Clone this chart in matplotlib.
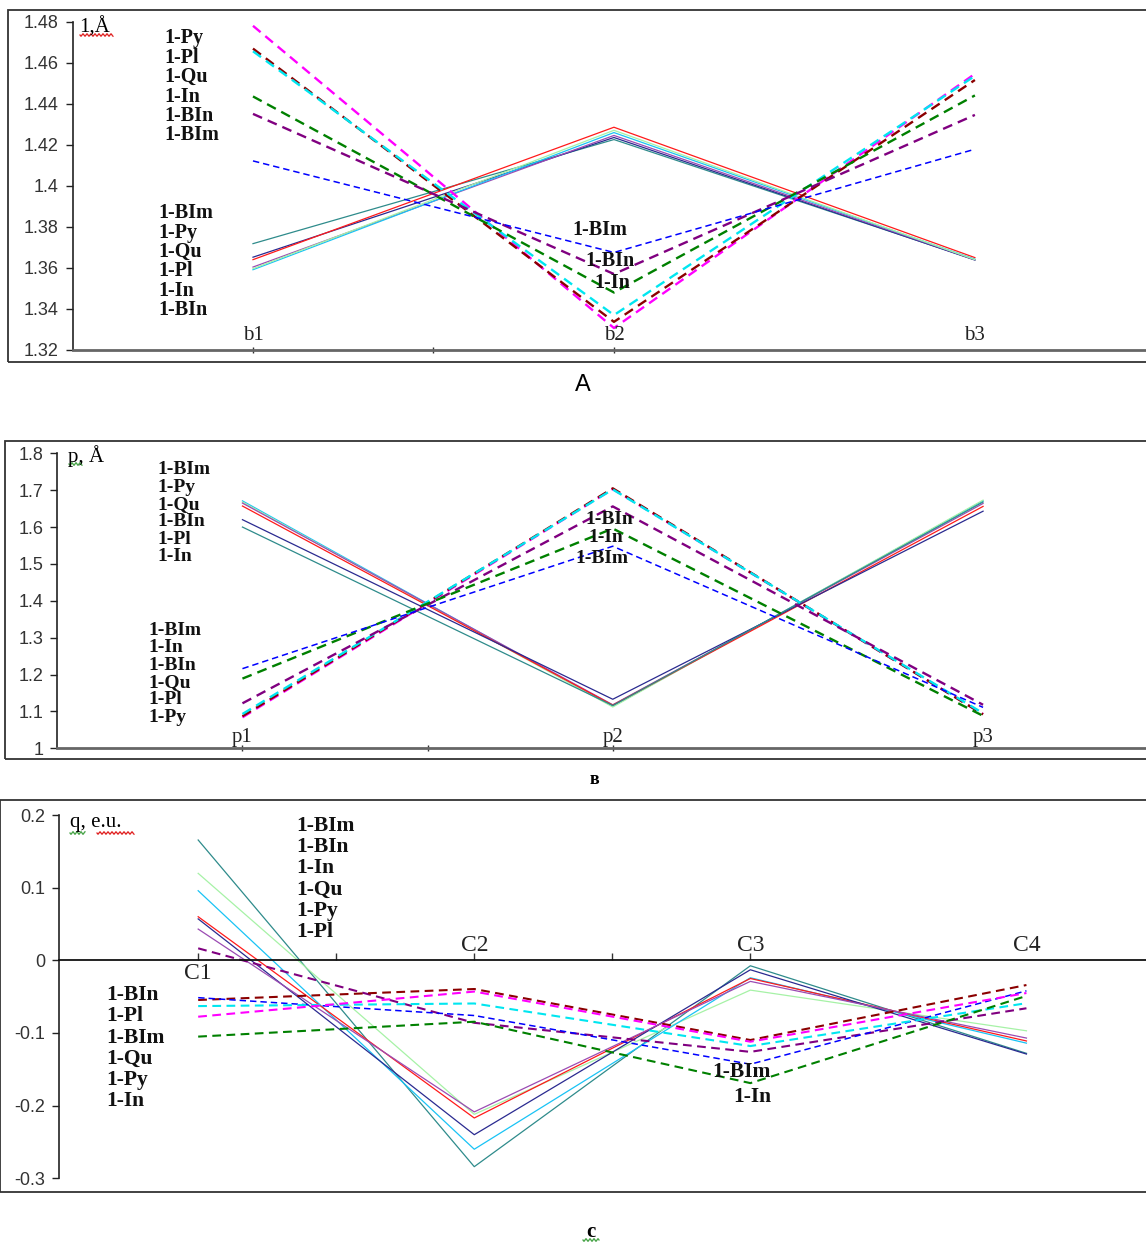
import numpy as np
import matplotlib.pyplot as plt
from matplotlib.patches import Rectangle
from matplotlib.lines import Line2D
from matplotlib.ticker import FuncFormatter

W, H = 1146, 1243

TEAL = '#2e8b8b'
LGREEN = '#a6f2a6'
SKY = '#19c3f5'
RED = '#ff1a1a'
NAVY = '#2a2a90'
ORCHID = '#9b4bb3'
MAG = '#ff00ff'
MAROON = '#8b0000'
CYAN = '#00e6f0'
GREEN = '#008000'
PURPLE = '#800080'
BLUE = '#0000ff'

# panel A: bond lengths
a_cats = ['b1', 'b2', 'b3']
a_solid_cols = [TEAL, NAVY, RED, ORCHID, SKY, LGREEN]
a_solid = [[1.3718, 1.4225, 1.3640],
           [1.3652, 1.4235, 1.3638],
           [1.3640, 1.4285, 1.3650],
           [1.3604, 1.4245, 1.3640],
           [1.3591, 1.4259, 1.3642],
           [1.3596, 1.4270, 1.3640]]
a_dash_cols = [MAG, MAROON, CYAN, GREEN, PURPLE, BLUE]
a_dash = [[1.4779, 1.3307, 1.4545],
          [1.4668, 1.3337, 1.4515],
          [1.4655, 1.3370, 1.4535],
          [1.4435, 1.3480, 1.4440],
          [1.4350, 1.3570, 1.4345],
          [1.4121, 1.3675, 1.4178]]
a_yticks = [1.32, 1.34, 1.36, 1.38, 1.40, 1.42, 1.44, 1.46, 1.48]
a_top_names = ['1-Py', '1-Pl', '1-Qu', '1-In', '1-BIn', '1-BIm']
a_low_names = ['1-BIm', '1-Py', '1-Qu', '1-Pl', '1-In', '1-BIn']
a_mid_names = ['1-BIm', '1-BIn', '1-In']

# panel B
b_cats = ['p1', 'p2', 'p3']
b_solid_cols = [SKY, LGREEN, ORCHID, RED, NAVY, TEAL]
b_solid = [[1.671, 1.114, 1.671],
           [1.668, 1.112, 1.673],
           [1.665, 1.118, 1.664],
           [1.657, 1.117, 1.656],
           [1.620, 1.133, 1.643],
           [1.600, 1.116, 1.668]]
b_dash_cols = [MAG, MAROON, CYAN, PURPLE, GREEN, BLUE]
b_dash = [[1.084, 1.703, 1.093],
          [1.087, 1.705, 1.092],
          [1.093, 1.702, 1.095],
          [1.122, 1.656, 1.118],
          [1.189, 1.596, 1.088],
          [1.216, 1.548, 1.111]]
b_yticks = [1.0, 1.1, 1.2, 1.3, 1.4, 1.5, 1.6, 1.7, 1.8]
b_top_names = ['1-BIm', '1-Py', '1-Qu', '1-BIn', '1-Pl', '1-In']
b_low_names = ['1-BIm', '1-In', '1-BIn', '1-Qu', '1-Pl', '1-Py']
b_mid_names = ['1-BIn', '1-In', '1-BIm']

# panel C: charges
c_cats = ['C1', 'C2', 'C3', 'C4']
c_solid_cols = [TEAL, LGREEN, SKY, RED, NAVY, ORCHID]
c_solid = [[0.1656, -0.284, -0.0075, -0.128],
           [0.1197, -0.212, -0.041, -0.097],
           [0.0958, -0.260, -0.024, -0.114],
           [0.0600, -0.217, -0.025, -0.111],
           [0.0570, -0.240, -0.013, -0.129],
           [0.0430, -0.2086, -0.029, -0.107]]
c_dash_cols = [PURPLE, MAROON, BLUE, CYAN, MAG, GREEN]
c_dash = [[0.0165, -0.086, -0.126, -0.066],
          [-0.0546, -0.0395, -0.1097, -0.034],
          [-0.0514, -0.076, -0.143, -0.042],
          [-0.063, -0.0594, -0.118, -0.059],
          [-0.0776, -0.043, -0.112, -0.045],
          [-0.105, -0.0845, -0.169, -0.049]]
c_yticks = [-0.3, -0.2, -0.1, 0.0, 0.1, 0.2]
c_top_names = ['1-BIm', '1-BIn', '1-In', '1-Qu', '1-Py', '1-Pl']
c_low_names = ['1-BIn', '1-Pl', '1-BIm', '1-Qu', '1-Py', '1-In']
c_mid_names = ['1-BIm', '1-In']

SERIF = 'Liberation Serif'
SANS = 'Liberation Sans'

fig = plt.figure(figsize=(W / 100, H / 100), dpi=100)


def fx(x):
    return x / W


def fy(y):
    return 1 - y / H


def px_axes(l, t, r, b):
    return fig.add_axes([fx(l), fy(b), (r - l) / W, (b - t) / H])


def frame(l, t, b):
    fig.add_artist(Rectangle((fx(l), fy(b)), (W + 20 - l) / W, (b - t) / H,
                             transform=fig.transFigure, fill=False,
                             ec='#333333', lw=1.3, clip_on=False))


def squiggle(x0, x1, y, color):
    # spell-check style wavy underline
    xs = np.linspace(x0, x1, 60)
    ys = y + 1.2 * np.sin((xs - x0) * np.pi / 2.0)
    fig.add_artist(Line2D(fx(xs), fy(ys), color=color, lw=0.9,
                          transform=fig.transFigure))


def names(x, ys, labels, size=14.5):
    for y, s in zip(ys, labels):
        fig.text(fx(x), fy(y), s, family=SERIF, weight='bold', fontsize=size,
                 ha='left', va='center', color='#111111')


def style(ax, yticks, xlim, zero_axis=False):
    ax.set_facecolor('none')
    ax.set_xlim(*xlim)
    ax.set_ylim(yticks[0], yticks[-1])
    ax.set_yticks(yticks)
    ax.yaxis.set_major_formatter(FuncFormatter(lambda v, p: f'{v:g}'))
    ax.tick_params(axis='y', direction='out', length=5, width=1, color='#222222',
                   labelsize=13, labelcolor='#333333', pad=5)
    for lab in ax.get_yticklabels():
        lab.set_family(SANS)
    ax.spines['top'].set_visible(False)
    ax.spines['right'].set_visible(False)
    ax.spines['left'].set_color('#222222')
    ax.spines['left'].set_linewidth(1.2)
    if zero_axis:
        ax.spines['bottom'].set_position(('data', 0))
        ax.spines['bottom'].set_color('#111111')
        ax.spines['bottom'].set_linewidth(1.3)
    else:
        ax.spines['bottom'].set_color('#666666')
        ax.spines['bottom'].set_linewidth(2)
    n = int(np.floor(xlim[1] + 0.5))
    ax.set_xticks(np.arange(n))
    ax.set_xticks(np.arange(n - 1) + 0.5, minor=True)
    ax.set_xticklabels([])
    ax.tick_params(axis='x', which='both', direction='inout', length=4,
                   width=1, color='#333333')


def draw(ax, solid, solid_cols, dash, dash_cols, dash_lw=1.7):
    for vals, c in zip(solid, solid_cols):
        ax.plot(range(len(vals)), vals, color=c, lw=0.9)
    for vals, c in zip(dash, dash_cols):
        lw = 1.1 if c == BLUE else dash_lw
        ax.plot(range(len(vals)), vals, color=c, lw=lw, dashes=(4.2, 2.6))


# ---------------- panel A
frame(8, 10, 362)
axA = px_axes(72.5, 21.5, 1146, 350)
style(axA, a_yticks, (-0.5, 2.474))
draw(axA, a_solid, a_solid_cols, a_dash, a_dash_cols)
for i, s in enumerate(a_cats):
    axA.text(i, 1.3222, s, family=SERIF, fontsize=15, ha='center', va='bottom',
             color='#222222')
fig.text(fx(79), fy(27), '1,Å', family=SERIF, fontsize=15, ha='left', va='center')
squiggle(80, 113, 35, '#e02020')
names(164, [38.3, 57.7, 77.1, 96.5, 115.9, 135.3], a_top_names)
names(158, [213.3, 232.7, 252.1, 271.5, 290.9, 310.3], a_low_names)
names(572, [230], a_mid_names[:1])
names(585, [260.5], a_mid_names[1:2])
names(594, [282.5], a_mid_names[2:])
fig.text(fx(583), fy(385), 'A', family=SANS, fontsize=17, ha='center', va='center')

# ---------------- panel B
frame(5, 441, 759)
axB = px_axes(57.3, 453.3, 1146, 748.3)
style(axB, b_yticks, (-0.5, 2.44))
draw(axB, b_solid, b_solid_cols, b_dash, b_dash_cols)
for i, s in enumerate(b_cats):
    axB.text(i, 1.004, s, family=SERIF, fontsize=15, ha='center', va='bottom',
             color='#222222')
fig.text(fx(68), fy(456), 'p, Å', family=SERIF, fontsize=15, ha='left', va='center')
squiggle(69, 82, 464, '#40a040')
names(157, [470, 487.3, 504.6, 521.9, 539.2, 556.5], b_top_names, 14)
names(148, [630.3, 647.7, 665.1, 682.5, 699.9, 717.3], b_low_names, 14)
names(585, [520], b_mid_names[:1], 14)
names(588, [537], b_mid_names[1:2], 14)
names(575, [558.5], b_mid_names[2:], 14)
fig.text(fx(594), fy(779), 'в', family=SERIF, weight='bold', fontsize=13,
         ha='center', va='center')

# ---------------- panel C
frame(0, 800, 1192)
axC = px_axes(59.3, 815, 1146, 1178.3)
style(axC, c_yticks, (-0.503, 3.433), zero_axis=True)
axC.tick_params(axis='x', which='both', direction='in', length=5)
draw(axC, c_solid, c_solid_cols, c_dash, c_dash_cols, dash_lw=1.5)
for i, s in enumerate(c_cats):
    if i == 0:
        axC.text(i, -0.004, s, family=SERIF, fontsize=17, ha='center', va='top',
                 color='#222222')
    else:
        axC.text(i, 0.006, s, family=SERIF, fontsize=17, ha='center', va='bottom',
                 color='#222222')
fig.text(fx(70), fy(823), 'q, e.u.', family=SERIF, fontsize=15, ha='left', va='center')
squiggle(70, 85, 833, '#40a040')
squiggle(97, 134, 833, '#e02020')
names(296, [825.7, 847, 868.3, 889.6, 910.9, 932.2], c_top_names, 15.5)
names(106, [995, 1016.3, 1037.6, 1058.9, 1080.2, 1101.5], c_low_names, 15.5)
names(712, [1072], c_mid_names[:1], 15.5)
names(733, [1096.5], c_mid_names[1:], 15.5)
fig.text(fx(591), fy(1232), 'c', family=SERIF, weight='bold', fontsize=15,
         ha='center', va='center')
squiggle(583, 599, 1240, '#40a040')

fig.savefig('out.png', dpi=100)
